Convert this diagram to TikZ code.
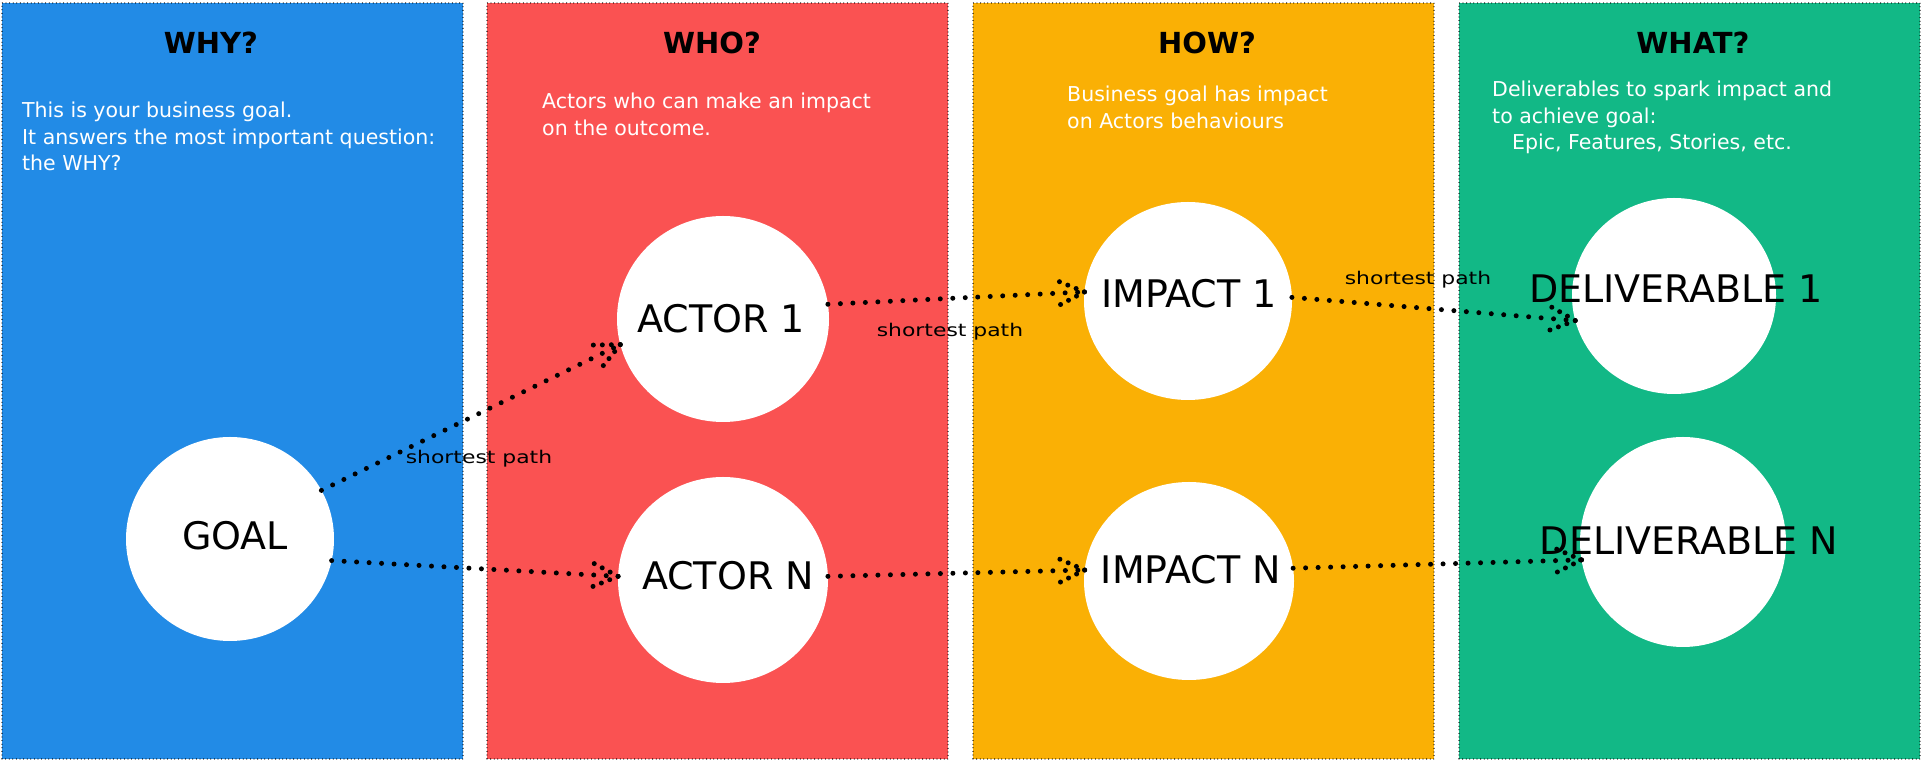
\documentclass[tikz,border=0pt]{standalone}
\usepackage{fontspec}
\setmainfont{DejaVu Sans}
\newfontfamily\handwide[FakeStretch=1.25]{DejaVu Sans}
\usetikzlibrary{shapes.geometric,calc}
\definecolor{cblue}{RGB}{34,139,230}
\definecolor{cred}{RGB}{250,82,82}
\definecolor{cyellow}{RGB}{250,176,5}
\definecolor{cgreen}{RGB}{18,184,134}
\tikzset{
  panel/.style={draw=black, line width=1.3pt, dash pattern=on 0pt off 3.6pt, line cap=round,
    minimum width=461pt, minimum height=756pt, inner sep=0pt, outer sep=0pt},
  disc/.style={ellipse, fill=white, inner sep=0pt, outer sep=0pt},
  title/.style={font=\fontsize{29}{34}\selectfont\bfseries, text=black, inner sep=0pt},
  desc/.style={font=\fontsize{20.5}{26.5}\selectfont, text=white, align=left, inner sep=0pt, anchor=north west},
  clabel/.style={font=\fontsize{38}{44}\selectfont, text=black, inner sep=0pt},
  plabel/.style={font=\handwide\fontsize{17.5}{20}\selectfont, text=black, inner sep=0pt},
  conn/.style={draw=black, line width=5pt, dash pattern=on 0pt off 12.5pt, line cap=round},
  tiparm/.style={draw=black, line width=5pt, dash pattern=on 0pt off 9pt, line cap=round},
}
\newcommand\dotarrow[2]{%
  \draw[conn] (#1) -- (#2);
  \draw[tiparm] (#2) -- ($(#2)!28pt!25:(#1)$);
  \draw[tiparm] (#2) -- ($(#2)!28pt!-25:(#1)$);
}
\begin{document}
\begin{tikzpicture}[x=1pt,y=1pt]
\useasboundingbox (0,0) rectangle (1922,762);
\fill[white] (0,0) rectangle (1922,762);
% panels
\node[panel, fill=cblue]   (why)  at (232.5,381) {};
\node[panel, fill=cred]    (who)  at (717.5,381) {};
\node[panel, fill=cyellow] (how)  at (1203.5,381) {};
\node[panel, fill=cgreen]  (what) at (1689.5,381) {};
% titles
\node[title] (whyt)  at (211,719) {WHY?};
\node[title] (whot)  at (712,719) {WHO?};
\node[title] (howt)  at (1207,719) {HOW?};
\node[title] (whatt) at (1693,719) {WHAT?};
% descriptions
\node[desc] (whyd) at (22,660) {This is your business goal.\\It answers the most important question:\\the WHY?};
\node[desc] (whod) at (542,669) {Actors who can make an impact\\on the outcome.};
\node[desc] (howd) at (1067,676) {Business goal has impact\\on Actors behaviours};
\node[desc] (whatd) at (1492,681) {Deliverables to spark impact and\\to achieve goal:\\\hspace*{20pt}Epic, Features, Stories, etc.};
% circles
\node[disc, minimum width=208pt, minimum height=204pt] (goal)    at (230,223) {};
\node[disc, minimum width=212pt, minimum height=206pt] (actor1)  at (723,443) {};
\node[disc, minimum width=210pt, minimum height=206pt] (actorn)  at (723,182) {};
\node[disc, minimum width=208pt, minimum height=198pt] (impact1) at (1188,461) {};
\node[disc, minimum width=210pt, minimum height=198pt] (impactn) at (1189,181) {};
\node[disc, minimum width=204pt, minimum height=196pt] (deliv1)  at (1674,466) {};
\node[disc, minimum width=206pt, minimum height=210pt] (delivn)  at (1683,220) {};
% connectors
\dotarrow{goal.28}{actor1.194}
\dotarrow{goal.348}{actorn.178}
\dotarrow{actor1.8}{impact1.175}
\dotarrow{actorn.2}{impactn.174}
\dotarrow{impact1.2}{deliv1.194}
\dotarrow{impactn.7}{delivn.190}
% circle labels
\node[clabel] (goall)    at (235,226) {GOAL};
\node[clabel] (actor1l)  at (721,443) {ACTOR 1};
\node[clabel] (actornl)  at (728,186) {ACTOR N};
\node[clabel] (impact1l) at (1189,468) {IMPACT 1};
\node[clabel] (impactnl) at (1191,192) {IMPACT N};
\node[clabel] (deliv1l)  at (1676,473) {DELIVERABLE 1};
\node[clabel] (delivnl)  at (1689,221) {DELIVERABLE N};
% path labels
\node[plabel] (sp1) at (479,303) {shortest path};
\node[plabel] (sp2) at (950,430) {shortest path};
\node[plabel] (sp3) at (1418,482) {shortest path};
\end{tikzpicture}
\end{document}
